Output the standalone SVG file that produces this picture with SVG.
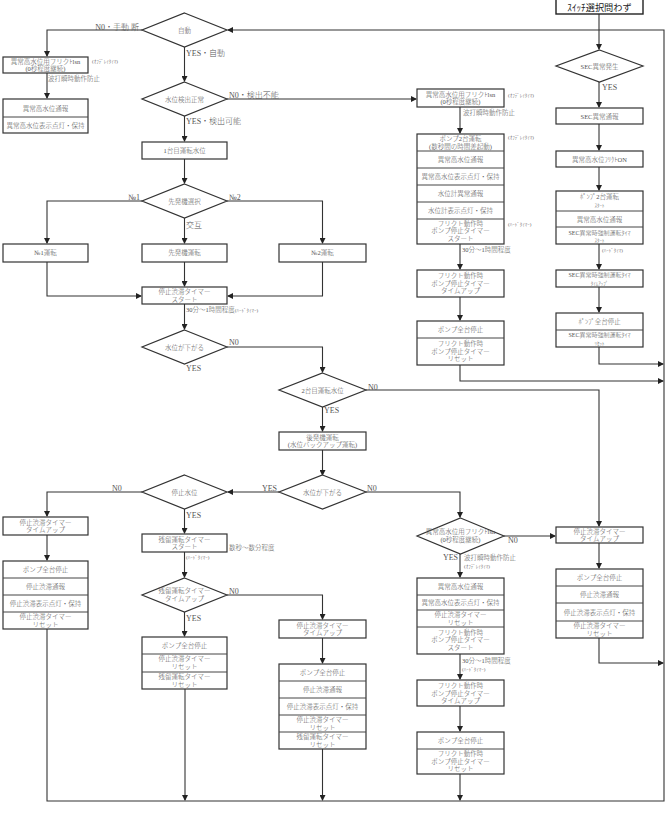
<svg xmlns="http://www.w3.org/2000/svg" width="671" height="816" viewBox="0 0 671 816">
<style>
.b{fill:#fff;stroke:#333;stroke-width:1.2}
.d{fill:none;stroke:#444;stroke-width:1}
.c{fill:none;stroke:#333;stroke-width:1.1}
text{font-family:"Liberation Serif","Noto Sans CJK JP",serif;fill:#555;font-weight:300}
.t{font-size:6.5px;text-anchor:middle}
.l{font-size:8px}
.s{font-size:5px}
.m{font-size:6.5px}
</style>
<defs>
<marker id="a" markerWidth="6" markerHeight="6" refX="5" refY="3" orient="auto" markerUnits="userSpaceOnUse">
<path d="M0,0 L6,3 L0,6 z" fill="#222"/>
</marker>
</defs>
<rect width="671" height="816" fill="#fff"/>
<g id="connectors" class="c" marker-end="url(#a)">
<path d="M47,629 V801 H664 V30 H228"/>
<path d="M185,689 V800"/>
<path d="M322.5,749 V800"/>
<path d="M460,774 V800"/>
<path d="M599,347 V364 H663"/>
<path d="M460,365 V381 H663"/>
<path d="M599,638 V663 H663"/>
<path d="M599,14 V49"/>
<path d="M599,82 V107"/>
<path d="M599,124 V150"/>
<path d="M599,167 V190"/>
<path d="M599,244 V269"/>
<path d="M599,287 V312"/>
<path d="M142,30 H47 V56"/>
<path d="M47,73 V98"/>
<path d="M184.5,47 V81"/>
<path d="M227,99 H416"/>
<path d="M184.5,116 V141"/>
<path d="M184.5,159 V183"/>
<path d="M142,201 H47 V243"/>
<path d="M227,201 H322.5 V243"/>
<path d="M184.5,218 V243"/>
<path d="M47,262 V296 H141"/>
<path d="M322.5,262 V296 H228"/>
<path d="M184.5,262 V286"/>
<path d="M184.5,304 V329"/>
<path d="M227,347 H322.5 V372"/>
<path d="M366,390 H599 V526"/>
<path d="M322.5,407 V431"/>
<path d="M322.5,450 V475"/>
<path d="M279,492 H228"/>
<path d="M366,492 H460 V517"/>
<path d="M142,492 H47 V516"/>
<path d="M47,535 V560"/>
<path d="M184.5,509 V533"/>
<path d="M184.5,552 V577"/>
<path d="M227,595 H322.5 V619"/>
<path d="M184.5,612 V636"/>
<path d="M322.5,638 V663"/>
<path d="M460,107 V133"/>
<path d="M460,244 V269"/>
<path d="M460,297 V320"/>
<path d="M504,536 H555"/>
<path d="M460,554 V577"/>
<path d="M460,654 V679"/>
<path d="M460,706 V731"/>
<path d="M599,543 V568"/>
</g>

<g id="n_auto"><path class="b" d="M184.5,13 L227,30 L184.5,47 L142,30 Z"/><text class="t" x="184.5" y="32.5">自動</text></g>
<g id="n_switch"><rect x="556" y="-1" width="87" height="15" fill="#fff" stroke="#222" stroke-width="1.4"/><text x="599.5" y="10.8" text-anchor="middle" font-size="9.2" style="fill:#222;font-weight:400">ｽｲｯﾁ選択問わず</text></g>
<g id="n_l1"><rect class="b" x="3" y="57" width="85" height="16"/><text class="t" x="45.5" y="64">異常高水位用フリクﾄlsn</text><text class="t" x="45.5" y="71">(0秒程度継続)</text></g>
<g id="n_l2"><rect class="b" x="3" y="99" width="85" height="34"/><path class="d" d="M3,117 H88"/><text class="t" x="45.5" y="110.5">異常高水位通報</text><text class="t" x="45.5" y="127.5">異常高水位表示点灯・保持</text></g>
<g id="n_detect"><path class="b" d="M184.5,82 L227,99 L184.5,116 L142,99 Z"/><text class="t" x="184.5" y="101.5">水位検出正常</text></g>
<g id="n_lv1"><rect class="b" x="142" y="142" width="85" height="17"/><text class="t" x="184.5" y="152.5">1台目運転水位</text></g>
<g id="n_sel"><path class="b" d="M184.5,184 L227,201 L184.5,218 L142,201 Z"/><text class="t" x="184.5" y="203.5">先発機選択</text></g>
<g id="n_no1"><rect class="b" x="3" y="244" width="85" height="18"/><text class="t" x="45.5" y="255">№1運転</text></g>
<g id="n_lead"><rect class="b" x="142" y="244" width="85" height="18"/><text class="t" x="184.5" y="255">先発機運転</text></g>
<g id="n_no2"><rect class="b" x="279" y="244" width="87" height="18"/><text class="t" x="322.5" y="255">№2運転</text></g>
<g id="n_stt"><rect class="b" x="142" y="287" width="85" height="17"/><text class="t" x="184.5" y="294">停止渋滞タイマー</text><text class="t" x="184.5" y="301.5">スタート</text></g>
<g id="n_down1"><path class="b" d="M184.5,330 L227,347 L184.5,364 L142,347 Z"/><text class="t" x="184.5" y="349.5">水位が下がる</text></g>
<g id="n_lv2"><path class="b" d="M322.5,373 L366,390 L322.5,407 L279,390 Z"/><text class="t" x="322.5" y="392.5">2台目運転水位</text></g>
<g id="n_lag"><rect class="b" x="279" y="432" width="87" height="18"/><text class="t" x="322.5" y="439.5">後発機運転</text><text class="t" x="322.5" y="447">(水位バックアップ運転)</text></g>
<g id="n_down2"><path class="b" d="M322.5,475 L366,492 L322.5,509 L279,492 Z"/><text class="t" x="322.5" y="494.5">水位が下がる</text></g>
<g id="n_stop"><path class="b" d="M184.5,475 L227,492 L184.5,509 L142,492 Z"/><text class="t" x="184.5" y="494.5">停止水位</text></g>
<g id="n_l_tu"><rect class="b" x="3" y="517" width="85" height="18"/><text class="t" x="45.5" y="524.5">停止渋滞タイマー</text><text class="t" x="45.5" y="532">タイムアップ</text></g>
<g id="n_l_st"><rect class="b" x="3" y="561" width="85" height="68"/><path class="d" d="M3,578 H88 M3,595 H88 M3,612 H88"/><text class="t" x="45.5" y="572">ポンプ全台停止</text><text class="t" x="45.5" y="589">停止渋滞通報</text><text class="t" x="45.5" y="606">停止渋滞表示点灯・保持</text><text class="t" x="45.5" y="619">停止渋滞タイマー</text><text class="t" x="45.5" y="626.5">リセット</text></g>
<g id="n_res"><rect class="b" x="142" y="534" width="85" height="18"/><text class="t" x="184.5" y="541.5">残留運転タイマー</text><text class="t" x="184.5" y="549">スタート</text></g>
<g id="n_restu"><path class="b" d="M184.5,578 L227,595 L184.5,612 L142,595 Z"/><text class="t" x="184.5" y="593">残留運転タイマー</text><text class="t" x="184.5" y="600.5">タイムアップ</text></g>
<g id="n_m_tu"><rect class="b" x="279" y="620" width="87" height="18"/><text class="t" x="322.5" y="627.5">停止渋滞タイマー</text><text class="t" x="322.5" y="635">タイムアップ</text></g>
<g id="n_c_st"><rect class="b" x="142" y="637" width="85" height="52"/><path class="d" d="M142,654 H227 M142,672 H227"/><text class="t" x="184.5" y="648">ポンプ全台停止</text><text class="t" x="184.5" y="661">停止渋滞タイマー</text><text class="t" x="184.5" y="668.5">リセット</text><text class="t" x="184.5" y="679">残留運転タイマー</text><text class="t" x="184.5" y="686.5">リセット</text></g>
<g id="n_m_st"><rect class="b" x="279" y="664" width="87" height="85"/><path class="d" d="M279,681 H366 M279,698 H366 M279,715 H366 M279,732 H366"/><text class="t" x="322.5" y="675">ポンプ全台停止</text><text class="t" x="322.5" y="692">停止渋滞通報</text><text class="t" x="322.5" y="709">停止渋滞表示点灯・保持</text><text class="t" x="322.5" y="722">停止渋滞タイマー</text><text class="t" x="322.5" y="729.5">リセット</text><text class="t" x="322.5" y="739">残留運転タイマー</text><text class="t" x="322.5" y="746.5">リセット</text></g>
<g id="n_r1"><rect class="b" x="417" y="89" width="87" height="18"/><text class="t" x="460.5" y="96.5">異常高水位用フリクﾄlsn</text><text class="t" x="460.5" y="104">(0秒程度継続)</text></g>
<g id="n_r2"><rect class="b" x="417" y="134" width="87" height="110"/><path class="d" d="M417,151 H504 M417,168 H504 M417,185 H504 M417,202 H504 M417,219 H504"/><text class="t" x="460.5" y="141">ポンプ2台運転</text><text class="t" x="460.5" y="148.5">(数秒間の時間差起動)</text><text class="t" x="460.5" y="162">異常高水位通報</text><text class="t" x="460.5" y="179">異常高水位表示点灯・保持</text><text class="t" x="460.5" y="196">水位計異常通報</text><text class="t" x="460.5" y="213">水位計表示点灯・保持</text><text class="t" x="460.5" y="225.5">フリクト動作時</text><text class="t" x="460.5" y="233">ポンプ停止タイマー</text><text class="t" x="460.5" y="240.5">スタート</text></g>
<g id="n_r3"><rect class="b" x="417" y="270" width="87" height="27"/><text class="t" x="460.5" y="278">フリクト動作時</text><text class="t" x="460.5" y="285.5">ポンプ停止タイマー</text><text class="t" x="460.5" y="293">タイムアップ</text></g>
<g id="n_r4"><rect class="b" x="417" y="321" width="87" height="44"/><path class="d" d="M417,338 H504"/><text class="t" x="460.5" y="332">ポンプ全台停止</text><text class="t" x="460.5" y="346">フリクト動作時</text><text class="t" x="460.5" y="353.5">ポンプ停止タイマー</text><text class="t" x="460.5" y="361">リセット</text></g>
<g id="n_r5"><path class="b" d="M460.5,518 L504,536 L460.5,554 L417,536 Z"/><text class="t" x="460.5" y="534">異常高水位用フリクﾄlsn</text><text class="t" x="460.5" y="541.5">(0秒程度継続)</text></g>
<g id="n_r6"><rect class="b" x="417" y="578" width="87" height="76"/><path class="d" d="M417,595 H504 M417,610 H504 M417,627 H504"/><text class="t" x="460.5" y="589">異常高水位通報</text><text class="t" x="460.5" y="605">異常高水位表示点灯・保持</text><text class="t" x="460.5" y="617">停止渋滞タイマー</text><text class="t" x="460.5" y="624.5">リセット</text><text class="t" x="460.5" y="634.5">フリクト動作時</text><text class="t" x="460.5" y="642">ポンプ停止タイマー</text><text class="t" x="460.5" y="649.5">スタート</text></g>
<g id="n_r7"><rect class="b" x="417" y="680" width="87" height="26"/><text class="t" x="460.5" y="688">フリクト動作時</text><text class="t" x="460.5" y="695.5">ポンプ停止タイマー</text><text class="t" x="460.5" y="703">タイムアップ</text></g>
<g id="n_r8"><rect class="b" x="417" y="732" width="87" height="42"/><path class="d" d="M417,749 H504"/><text class="t" x="460.5" y="743">ポンプ全台停止</text><text class="t" x="460.5" y="756">フリクト動作時</text><text class="t" x="460.5" y="763.5">ポンプ停止タイマー</text><text class="t" x="460.5" y="771">リセット</text></g>
<g id="n_sec"><path class="b" d="M599.5,50 L643,66 L599.5,82 L556,66 Z"/><text class="t" x="599.5" y="68.5">SEC異常発生</text></g>
<g id="n_sec2"><rect class="b" x="556" y="108" width="87" height="16"/><text class="t" x="599.5" y="118.5">SEC異常通報</text></g>
<g id="n_sec3"><rect class="b" x="556" y="151" width="87" height="16"/><text class="t" x="599.5" y="161.5">異常高水位ﾌﾘｸﾄON</text></g>
<g id="n_sec4"><rect class="b" x="556" y="191" width="87" height="53"/><path class="d" d="M556,211 H643 M556,227 H643"/><text class="t" x="599.5" y="199">ﾎﾟﾝﾌﾟ2台運転</text><text class="t" x="599.5" y="207" style="font-size:5px">ｽﾀｰﾄ</text><text class="t" x="599.5" y="221.5">異常高水位通報</text><text class="t" x="599.5" y="234.5" style="font-size:6px">SEC異常時強制運転ﾀｲﾏ</text><text class="t" x="599.5" y="241.5" style="font-size:5px">ｽﾀｰﾄ</text></g>
<g id="n_sec5"><rect class="b" x="556" y="270" width="87" height="17"/><text class="t" x="599.5" y="277" style="font-size:6px">SEC異常時強制運転ﾀｲﾏ</text><text class="t" x="599.5" y="284.5" style="font-size:5px">ﾀｲﾑｱｯﾌﾟ</text></g>
<g id="n_sec6"><rect class="b" x="556" y="313" width="87" height="34"/><path class="d" d="M556,330 H643"/><text class="t" x="599.5" y="324">ﾎﾟﾝﾌﾟ全台停止</text><text class="t" x="599.5" y="337" style="font-size:6px">SEC異常時強制運転ﾀｲﾏ</text><text class="t" x="599.5" y="344.5" style="font-size:5px">ﾘｾｯﾄ</text></g>
<g id="n_rr1"><rect class="b" x="556" y="527" width="87" height="16"/><text class="t" x="599.5" y="533.5">停止渋滞タイマー</text><text class="t" x="599.5" y="541">タイムアップ</text></g>
<g id="n_rr2"><rect class="b" x="556" y="569" width="87" height="69"/><path class="d" d="M556,586 H643 M556,603 H643 M556,621 H643"/><text class="t" x="599.5" y="580">ポンプ全台停止</text><text class="t" x="599.5" y="597">停止渋滞通報</text><text class="t" x="599.5" y="614.5">停止渋滞表示点灯・保持</text><text class="t" x="599.5" y="628">停止渋滞タイマー</text><text class="t" x="599.5" y="635.5">リセット</text></g>

<g id="labels">
<text class="l" x="139" y="29.5" text-anchor="end">N0・手動 断</text>
<text class="l" x="186" y="56">YES・自動</text>
<text class="s" x="92" y="63">(ｵﾌﾃﾞﾚｲﾀｲﾏ)</text>
<text class="m" x="48" y="81">波打瞬時動作防止</text>
<text class="l" x="229" y="98">N0・検出不能</text>
<text class="l" x="186" y="124">YES・検出可能</text>
<text class="l" x="140" y="200" text-anchor="end">№1</text>
<text class="l" x="229" y="200">№2</text>
<text class="l" x="186" y="228">交互</text>
<text class="m" x="186" y="312">30分～1時間程度<tspan class="s">(ﾊｰﾄﾞﾀｲﾏｰ)</tspan></text>
<text class="l" x="229" y="345">N0</text>
<text class="l" x="186" y="371">YES</text>
<text class="l" x="368" y="390">N0</text>
<text class="l" x="324" y="413">YES</text>
<text class="l" x="277" y="491" text-anchor="end">YES</text>
<text class="l" x="367" y="491">N0</text>
<text class="l" x="112" y="491">N0</text>
<text class="l" x="186" y="518">YES</text>
<text class="m" x="229" y="550">数秒～数分程度</text>
<text class="s" x="186" y="559">(ﾊｰﾄﾞﾀｲﾏｰ)</text>
<text class="l" x="229" y="594">N0</text>
<text class="l" x="186" y="621">YES</text>
<text class="s" x="508" y="97">(ｵﾌﾃﾞﾚｲﾀｲﾏ)</text>
<text class="m" x="463" y="115">波打瞬時動作防止</text>
<text class="s" x="508" y="139">(ｵﾌﾃﾞﾚｲﾀｲﾏ)</text>
<text class="s" x="508" y="226">(ﾊｰﾄﾞﾀｲﾏｰ)</text>
<text class="m" x="462" y="252">30分～1時間程度</text>
<text class="l" x="458" y="560" text-anchor="end">YES</text>
<text class="m" x="464" y="560">波打瞬時動作防止</text>
<text class="s" x="464" y="568">(ｵﾌﾃﾞﾚｲﾀｲﾏ)</text>
<text class="l" x="508" y="543">N0</text>
<text class="m" x="462" y="663">30分～1時間程度</text>
<text class="s" x="462" y="671">(ﾊｰﾄﾞﾀｲﾏｰ)</text>
<text class="l" x="602" y="90">YES</text>
<text class="s" x="602" y="252">(ﾊｰﾄﾞﾀｲﾏ)</text>
</g>
</svg>
